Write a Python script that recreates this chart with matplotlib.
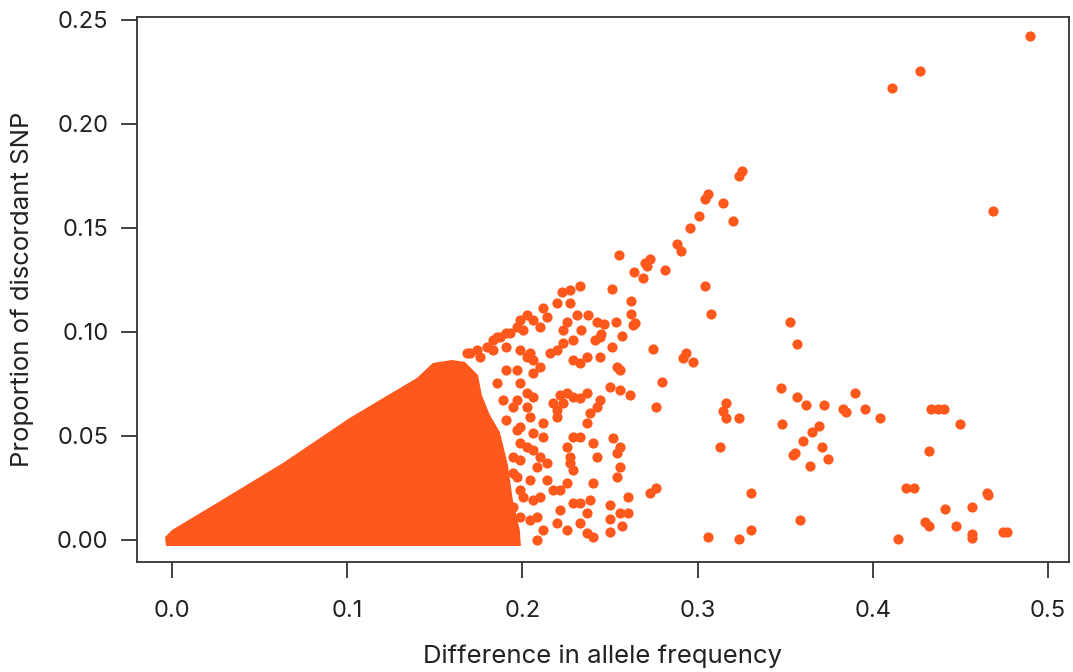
import matplotlib
matplotlib.use('Agg')
import matplotlib.pyplot as plt

plt.rcParams['font.family'] = ['Inter', 'DejaVu Sans']

dot_color = '#ff581c'

# the dense part near the origin is one solid blob of overlapping dots,
# so it is kept as its outline
core_x = [-0.0034, -0.0040, 0.0000, 0.0257, 0.0633, 0.1015, 0.1398, 0.1489, 0.1597,
          0.1671, 0.1746, 0.1768, 0.1814, 0.1871, 0.1917, 0.1945, 0.1985, 0.1991]
core_y = [-0.0029, 0.0014, 0.0048, 0.0178, 0.0370, 0.0587, 0.0779, 0.0851, 0.0865,
          0.0856, 0.0793, 0.0697, 0.0601, 0.0519, 0.0361, 0.0192, 0.0048, -0.0029]

# loose dots at the edge of the cloud
edge_x = [0.1681, 0.1738, 0.1795, 0.1852, 0.1909, 0.1967, 0.2024, 0.2061, 0.2099, 0.2138,
          0.2118, 0.2195, 0.2223, 0.2271, 0.2328, 0.2271, 0.2309, 0.2375, 0.2423, 0.2337,
          0.2442, 0.2413, 0.2252, 0.2232, 0.2289, 0.1985, 0.2004, 0.1871, 0.1833, 0.1928,
          0.2537, 0.2556, 0.2442, 0.2366, 0.2328, 0.2289, 0.2195, 0.2232, 0.2156, 0.2061,
          0.2099, 0.2024, 0.2799, 0.2764, 0.2499, 0.2556, 0.2613, 0.2442, 0.2423, 0.2366,
          0.2328, 0.2289, 0.2213, 0.2252, 0.2175, 0.2385, 0.2366, 0.2328, 0.2518, 0.2556,
          0.2537, 0.2403, 0.2423, 0.2252, 0.2271, 0.2289, 0.2556, 0.2537, 0.2403, 0.2385,
          0.2328, 0.2366, 0.2328, 0.2366, 0.2403, 0.2252, 0.2213, 0.2289, 0.2138, 0.2099,
          0.2175, 0.2213, 0.2195, 0.2252, 0.2081, 0.2118, 0.2099, 0.2138, 0.2061, 0.2118,
          0.2118, 0.2195, 0.2024, 0.2042, 0.1967, 0.2024, 0.2061, 0.2195, 0.2232, 0.2271,
          0.2289, 0.1967, 0.1985, 0.1947, 0.1967, 0.1985, 0.1947, 0.1985,
          0.1700, 0.1757, 0.1833, 0.1909, 0.1985, 0.2042, 0.1967, 0.1909, 0.1852, 0.1985,
          0.2061, 0.1947, 0.1890, 0.1909, 0.1985, 0.2061, 0.2024, 0.1985, 0.1947, 0.2042,
          0.2081, 0.2004, 0.2061, 0.2042, 0.2081]
edge_y = [0.0898, 0.0914, 0.0929, 0.0977, 0.0994, 0.1026, 0.1082, 0.1058, 0.1026, 0.1074,
          0.1114, 0.1138, 0.1194, 0.1202, 0.1221, 0.1138, 0.1082, 0.1082, 0.1050, 0.1010,
          0.0977, 0.0962, 0.1050, 0.1010, 0.0962, 0.1058, 0.1010, 0.0977, 0.0962, 0.0994,
          0.0833, 0.0817, 0.0881, 0.0881, 0.0850, 0.0865, 0.0914, 0.0946, 0.0898, 0.0865,
          0.0833, 0.0881, 0.0761, 0.0641, 0.0737, 0.0721, 0.0697, 0.0673, 0.0641, 0.0705,
          0.0681, 0.0689, 0.0697, 0.0705, 0.0657, 0.0609, 0.0561, 0.0497, 0.0489, 0.0449,
          0.0417, 0.0465, 0.0401, 0.0449, 0.0401, 0.0497, 0.0352, 0.0304, 0.0273, 0.0192,
          0.0176, 0.0128, 0.0080, 0.0032, 0.0016, 0.0273, 0.0240, 0.0176, 0.0288, 0.0208,
          0.0240, 0.0144, 0.0080, 0.0048, 0.0112, 0.0048, 0.0401, 0.0369, 0.0433, 0.0497,
          0.0561, 0.0593, 0.0641, 0.0593, 0.0673, 0.0705, 0.0689, 0.0625, 0.0657, 0.0369,
          0.0337, 0.0529, 0.0465, 0.0401, 0.0304, 0.0240, 0.0160, 0.0112,
          0.0898, 0.0881, 0.0914, 0.0929, 0.0914, 0.0898, 0.0817, 0.0817, 0.0753, 0.0753,
          0.0801, 0.0641, 0.0673, 0.0577, 0.0545, 0.0513, 0.0449, 0.0385, 0.0321, 0.0288,
          0.0352, 0.0208, 0.0192, 0.0096, 0.0000]

# sparse dots further out
far_x = [0.4895, 0.4267, 0.4109, 0.4687,
         0.3253, 0.3234, 0.3062, 0.3042, 0.3147, 0.3006, 0.3200, 0.2955, 0.2885, 0.2904,
         0.2552, 0.2727, 0.2698, 0.2711, 0.2639, 0.2691, 0.2814, 0.2514, 0.3042, 0.2620,
         0.3076, 0.2620, 0.2464, 0.2533, 0.2632, 0.2645, 0.3529, 0.2451, 0.2569, 0.2514,
         0.2746, 0.3566,
         0.2917, 0.2974, 0.2936, 0.3478, 0.3900, 0.3164, 0.3145, 0.3164, 0.3234, 0.3567,
         0.3620, 0.3723, 0.3830, 0.3849, 0.3953, 0.4039, 0.4334, 0.4370, 0.4406, 0.4495,
         0.3480, 0.3693, 0.3655, 0.3601, 0.3708, 0.3554, 0.3544, 0.3744, 0.3640, 0.3126,
         0.4320, 0.3303, 0.4191, 0.4235, 0.4651, 0.4657, 0.3587, 0.4410, 0.4564, 0.4300,
         0.4320, 0.4476, 0.4564, 0.4564, 0.4743, 0.4765, 0.3059, 0.3234, 0.3305, 0.4143,
         0.2499, 0.2499, 0.2499, 0.2556, 0.2603, 0.2569, 0.2603, 0.2727, 0.2765]
far_y = [0.2423, 0.2253, 0.2171, 0.1580,
         0.1774, 0.1751, 0.1662, 0.1640, 0.1622, 0.1559, 0.1532, 0.1498, 0.1421, 0.1391,
         0.1369, 0.1353, 0.1333, 0.1317, 0.1288, 0.1260, 0.1298, 0.1208, 0.1221, 0.1148,
         0.1088, 0.1088, 0.1038, 0.1047, 0.1034, 0.1042, 0.1048, 0.0989, 0.0981, 0.0926,
         0.0920, 0.0940,
         0.0873, 0.0857, 0.0897, 0.0729, 0.0708, 0.0660, 0.0622, 0.0587, 0.0587, 0.0689,
         0.0649, 0.0649, 0.0628, 0.0615, 0.0628, 0.0588, 0.0628, 0.0628, 0.0628, 0.0558,
         0.0558, 0.0548, 0.0519, 0.0478, 0.0447, 0.0417, 0.0407, 0.0388, 0.0357, 0.0447,
         0.0429, 0.0228, 0.0249, 0.0249, 0.0228, 0.0215, 0.0096, 0.0148, 0.0159, 0.0088,
         0.0067, 0.0066, 0.0027, 0.0011, 0.0037, 0.0037, 0.0016, 0.0006, 0.0047, 0.0006,
         0.0168, 0.0100, 0.0037, 0.0128, 0.0128, 0.0067, 0.0208, 0.0227, 0.0249]

fig = plt.figure(figsize=(10.73, 6.72), dpi=100)
ax = fig.add_axes([0.1277, 0.1637, 0.8686, 0.8110])

ax.fill(core_x, core_y, color=dot_color, lw=0, zorder=2)
ax.scatter(edge_x, edge_y, s=54, color=dot_color, lw=0, zorder=3)
ax.scatter(far_x, far_y, s=54, color=dot_color, lw=0, zorder=3)

ax.set_xlim(-0.02, 0.512)
ax.set_ylim(-0.0106, 0.2514)
ax.set_xticks([0.0, 0.1, 0.2, 0.3, 0.4, 0.5])
ax.set_xticklabels(['0.0', '0.1', '0.2', '0.3', '0.4', '0.5'])
ax.set_yticks([0.0, 0.05, 0.10, 0.15, 0.20, 0.25])
ax.set_yticklabels(['0.00', '0.05', '0.10', '0.15', '0.20', '0.25'])

for sp in ax.spines.values():
    sp.set_color('#333333')
    sp.set_linewidth(1.3)
ax.tick_params(axis='both', direction='out', length=11.5, width=1.3, color='#333333',
               labelsize=17, labelcolor='#222222')
ax.tick_params(axis='x', pad=16)
ax.tick_params(axis='y', pad=9)

ax.set_xlabel('Difference in allele frequency', fontsize=18.5, color='#222222')
ax.set_ylabel('Proportion of discordant SNP', fontsize=18.5, color='#222222')
ax.xaxis.set_label_coords(0.5, -0.152)
ax.yaxis.set_label_coords(-0.1105, 0.5)

fig.savefig('out.png', dpi=100)
